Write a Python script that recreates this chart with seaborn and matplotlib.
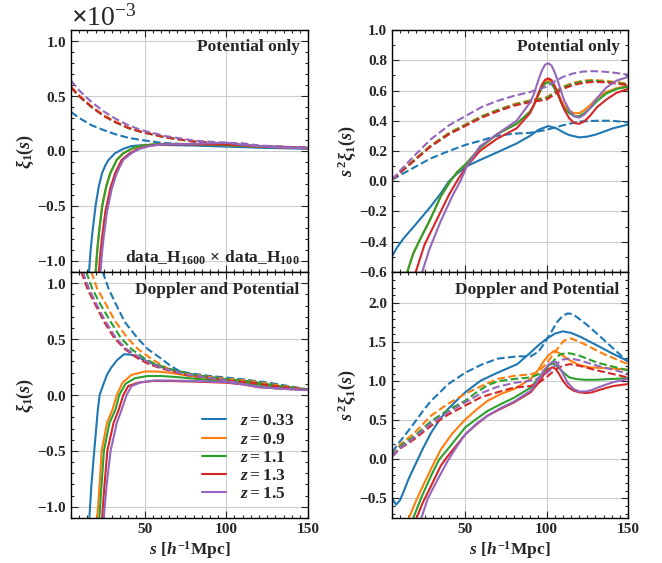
import matplotlib
matplotlib.use("Agg")
import matplotlib.pyplot as plt
import seaborn as sns
import pandas as pd
from matplotlib.lines import Line2D
from matplotlib.ticker import MultipleLocator, ScalarFormatter

# redshift bins
Z = ["0.33", "0.9", "1.1", "1.3", "1.5"]

# ---- xi_1(s), potential only (units of 1e-3) ----
pot_xi_solid = {
    "0.33": ([15.6, 16, 17, 18, 20, 22, 24, 26, 28, 32, 37, 42, 50, 60, 80, 100, 120, 150],
             [-1.25, -1.1, -0.9, -0.75, -0.5, -0.32, -0.2, -0.13, -0.08, -0.02, 0.02, 0.045, 0.055, 0.055, 0.05, 0.04, 0.03, 0.02]),
    "0.9": ([19.6, 20, 21, 22, 24, 26.5, 29, 33, 37, 42, 47, 55, 70, 90, 110, 130, 150],
            [-1.25, -1.1, -0.9, -0.75, -0.5, -0.32, -0.2, -0.08, -0.02, 0.02, 0.045, 0.06, 0.065, 0.06, 0.045, 0.035, 0.025]),
    "1.1": ([19.7, 20.1, 21.1, 22.1, 24.1, 26.6, 29.1, 33, 37, 42, 47, 55, 70, 90, 110, 130, 150],
            [-1.25, -1.1, -0.9, -0.75, -0.5, -0.32, -0.2, -0.08, -0.02, 0.02, 0.045, 0.06, 0.065, 0.06, 0.045, 0.035, 0.025]),
    "1.3": ([21.6, 22, 23, 24, 26, 29, 32, 36, 41, 46, 52, 60, 80, 100, 110, 130, 150],
            [-1.25, -1.1, -0.92, -0.78, -0.55, -0.34, -0.2, -0.08, -0.02, 0.02, 0.045, 0.06, 0.06, 0.06, 0.05, 0.035, 0.025]),
    "1.5": ([22.6, 23, 24, 25, 27, 30, 33, 37, 42, 47, 53, 60, 80, 100, 110, 130, 150],
            [-1.25, -1.1, -0.92, -0.78, -0.55, -0.34, -0.2, -0.08, -0.02, 0.02, 0.045, 0.06, 0.065, 0.075, 0.055, 0.035, 0.025]),
}
pot_xi_dashed = {
    "0.33": ([5, 10, 17.6, 25, 32, 40, 48, 60, 80, 100, 120, 150],
             [0.355, 0.3, 0.234, 0.19, 0.153, 0.12, 0.1, 0.075, 0.055, 0.045, 0.035, 0.025]),
    "0.9": ([5, 10, 17.6, 25, 32, 40, 48, 63, 81, 100, 120, 150],
            [0.585, 0.505, 0.405, 0.325, 0.268, 0.213, 0.176, 0.125, 0.086, 0.066, 0.046, 0.03]),
    "1.1": ([5, 10, 17.6, 25, 32, 40, 48, 63, 81, 100, 120, 150],
            [0.575, 0.495, 0.398, 0.318, 0.262, 0.208, 0.172, 0.122, 0.083, 0.064, 0.045, 0.03]),
    "1.3": ([5, 10, 17.6, 25, 32, 40, 48, 63, 81, 100, 120, 150],
            [0.58, 0.5, 0.4, 0.32, 0.264, 0.21, 0.174, 0.123, 0.084, 0.065, 0.045, 0.03]),
    "1.5": ([5, 10, 17.6, 25, 32, 40, 48, 63, 81, 100, 110, 120, 150],
            [0.64, 0.55, 0.444, 0.36, 0.295, 0.235, 0.19, 0.135, 0.093, 0.075, 0.07, 0.05, 0.03]),
}

# ---- xi_1(s), Doppler and potential (units of 1e-3) ----
dop_xi_solid = {
    "0.33": ([15.8, 16.2, 17.5, 19.2, 21.4, 22.5, 25.4, 27, 29.4, 33, 37.5, 42, 47, 55, 65, 80, 100, 115, 130, 150],
             [-1.25, -1.1, -0.8, -0.5, -0.13, 0.0, 0.12, 0.18, 0.24, 0.31, 0.365, 0.36, 0.33, 0.28, 0.23, 0.18, 0.14, 0.12, 0.08, 0.045]),
    "0.9": ([20.5, 21, 22.5, 23.7, 27, 30.4, 33, 36.5, 42, 50, 57, 65, 80, 100, 115, 130, 150],
            [-1.25, -1.1, -0.8, -0.5, -0.25, -0.13, 0.0, 0.11, 0.18, 0.21, 0.21, 0.2, 0.165, 0.13, 0.11, 0.08, 0.045]),
    "1.1": ([21.8, 22.3, 23.7, 25.1, 28.5, 32.2, 34.5, 38.3, 44, 52, 60, 70, 85, 100, 115, 130, 150],
            [-1.25, -1.1, -0.8, -0.5, -0.25, -0.13, 0.0, 0.1, 0.15, 0.17, 0.17, 0.16, 0.14, 0.12, 0.1, 0.075, 0.045]),
    "1.3": ([23.5, 24, 25.5, 27.2, 31, 34.2, 37, 40, 46, 54.6, 65, 80, 100, 110, 120, 135, 150],
            [-1.25, -1.1, -0.8, -0.5, -0.25, -0.13, 0.0, 0.08, 0.11, 0.125, 0.125, 0.12, 0.11, 0.095, 0.07, 0.055, 0.045]),
    "1.5": ([24.5, 25, 26.8, 29.2, 33, 36, 39, 42, 48, 56, 65, 80, 100, 110, 120, 135, 150],
            [-1.25, -1.1, -0.8, -0.5, -0.25, -0.13, 0.0, 0.08, 0.115, 0.13, 0.13, 0.125, 0.115, 0.095, 0.07, 0.055, 0.045]),
}
dop_xi_dashed = {
    "0.33": ([23, 24.4, 28, 32.5, 38, 45.6, 52, 59.7, 66, 71.8, 80, 90, 100, 110, 126, 140, 150],
             [1.2, 1.1, 0.95, 0.81, 0.65, 0.51, 0.41, 0.33, 0.26, 0.21, 0.19, 0.17, 0.156, 0.14, 0.11, 0.075, 0.05]),
    "0.9": ([16.5, 17.4, 21, 26.4, 32, 39.5, 46, 53.6, 60, 67.6, 80, 100, 115, 130, 150],
            [1.2, 1.1, 0.95, 0.81, 0.66, 0.51, 0.41, 0.33, 0.27, 0.21, 0.18, 0.145, 0.125, 0.09, 0.05]),
    "1.1": ([13.5, 14.3, 18, 23, 29, 35.5, 42, 49.6, 56, 63.7, 80, 100, 115, 130, 150],
            [1.2, 1.1, 0.95, 0.81, 0.66, 0.51, 0.41, 0.33, 0.28, 0.24, 0.18, 0.14, 0.12, 0.085, 0.05]),
    "1.3": ([10.5, 11.3, 15, 19.8, 25, 31.4, 38, 45.6, 52, 59.7, 75, 100, 115, 130, 150],
            [1.2, 1.1, 0.95, 0.81, 0.66, 0.51, 0.41, 0.33, 0.28, 0.24, 0.18, 0.13, 0.11, 0.08, 0.045]),
    "1.5": ([11.5, 12.3, 16, 20.6, 26, 32.4, 39, 47.6, 54, 61, 75, 100, 110, 120, 135, 150],
            [1.2, 1.1, 0.95, 0.81, 0.66, 0.51, 0.41, 0.33, 0.28, 0.24, 0.185, 0.13, 0.1, 0.075, 0.055, 0.045]),
}

# ---- s^2 xi_1(s), potential only ----
pot_s2_solid = {
    "0.33": ([5.1, 8, 12, 18.4, 28.6, 35, 40, 45, 51, 59, 69.4, 81.6, 89.8, 95, 101, 106, 110, 114, 120, 125, 130.6, 140.8, 150],
             [-0.495, -0.44, -0.38, -0.3, -0.17, -0.08, 0.0, 0.05, 0.1, 0.14, 0.19, 0.25, 0.3, 0.34, 0.365, 0.35, 0.325, 0.305, 0.29, 0.295, 0.31, 0.35, 0.375]),
    "0.9": ([13.8, 18, 22, 28.6, 35, 40.8, 45, 51, 59, 69.4, 81.6, 89.8, 92, 95, 97, 99, 101, 103, 105, 107, 109, 111, 114, 117, 120, 123, 126.5, 131, 136.7, 143, 150],
            [-0.62, -0.48, -0.39, -0.25, -0.1, 0.0, 0.06, 0.12, 0.22, 0.31, 0.38, 0.46, 0.5, 0.58, 0.63, 0.66, 0.67, 0.66, 0.625, 0.585, 0.535, 0.495, 0.465, 0.45, 0.45, 0.47, 0.5, 0.55, 0.59, 0.615, 0.63]),
    "1.1": ([13.8, 18, 22, 28.6, 35, 40.8, 45, 51, 59, 69.4, 81.6, 89.8, 92, 95, 97, 99, 101, 103, 105, 107, 109, 111, 114, 117, 120, 123, 126.5, 131, 136.7, 143, 150],
            [-0.62, -0.48, -0.39, -0.25, -0.1, 0.0, 0.06, 0.12, 0.22, 0.31, 0.38, 0.46, 0.5, 0.57, 0.615, 0.645, 0.655, 0.645, 0.61, 0.57, 0.52, 0.48, 0.45, 0.43, 0.43, 0.45, 0.48, 0.53, 0.58, 0.61, 0.625]),
    "1.3": ([19, 25, 32.7, 40, 46, 51, 59, 69.4, 81.6, 89.8, 92, 95, 97, 99, 101, 103, 105, 107, 109, 111, 114, 117, 120, 123, 126.5, 131, 136.7, 143, 150],
            [-0.62, -0.42, -0.25, -0.09, 0.02, 0.1, 0.2, 0.28, 0.35, 0.45, 0.5, 0.58, 0.635, 0.67, 0.68, 0.67, 0.63, 0.58, 0.52, 0.47, 0.415, 0.385, 0.38, 0.395, 0.43, 0.49, 0.54, 0.585, 0.61]),
    "1.5": ([23, 28, 34.7, 42, 47, 51, 59, 69.4, 81.6, 89.8, 92, 95, 97, 99, 101, 103, 105, 107, 109, 111, 114, 117, 120, 123, 126.5, 131, 136.7, 143, 150],
            [-0.62, -0.45, -0.27, -0.1, 0.0, 0.1, 0.23, 0.31, 0.4, 0.52, 0.57, 0.67, 0.73, 0.77, 0.78, 0.765, 0.72, 0.66, 0.59, 0.53, 0.47, 0.43, 0.42, 0.44, 0.48, 0.55, 0.62, 0.665, 0.69]),
}
pot_s2_dashed = {
    "0.33": ([5, 10, 18.4, 28.6, 40, 50, 60, 69.4, 80, 89.8, 100, 110, 120, 130.6, 140, 150],
             [0.01, 0.04, 0.09, 0.15, 0.2, 0.24, 0.27, 0.3, 0.315, 0.32, 0.34, 0.37, 0.395, 0.4, 0.4, 0.39]),
    "0.9": ([5, 10, 18.4, 28.6, 40, 50, 60, 69.4, 80, 89.8, 100, 105, 110, 116, 122.4, 128, 134.7, 142, 150],
            [0.01, 0.06, 0.14, 0.235, 0.32, 0.375, 0.43, 0.47, 0.51, 0.535, 0.555, 0.59, 0.625, 0.65, 0.665, 0.67, 0.665, 0.657, 0.645]),
    "1.1": ([5, 10, 18.4, 28.6, 40, 50, 60, 69.4, 80, 89.8, 100, 105, 110, 116, 122.4, 128, 134.7, 142, 150],
            [0.01, 0.058, 0.137, 0.232, 0.316, 0.372, 0.427, 0.467, 0.505, 0.53, 0.55, 0.585, 0.62, 0.645, 0.66, 0.665, 0.66, 0.652, 0.64]),
    "1.3": ([5, 10, 18.4, 28.6, 40, 50, 60, 69.4, 80, 89.8, 100, 105, 110, 116, 122.4, 128, 134.7, 142, 150],
            [0.01, 0.055, 0.133, 0.228, 0.31, 0.365, 0.42, 0.46, 0.5, 0.522, 0.54, 0.575, 0.61, 0.635, 0.65, 0.657, 0.655, 0.647, 0.635]),
    "1.5": ([5, 10, 18.4, 28.6, 40, 50, 60, 69.4, 80, 89.8, 100, 105, 110, 116, 122.4, 128, 134.7, 142, 150],
            [0.01, 0.07, 0.165, 0.275, 0.37, 0.43, 0.49, 0.53, 0.565, 0.59, 0.625, 0.66, 0.69, 0.712, 0.725, 0.728, 0.725, 0.717, 0.705]),
}

# ---- s^2 xi_1(s), Doppler and potential ----
dop_s2_solid = {
    "0.33": ([5.5, 7.5, 10, 12.6, 15, 18.8, 24, 29, 34, 39.2, 45, 50, 59.6, 69.8, 82, 90.2, 96, 100.4, 105, 110, 115, 120.8, 131, 141, 150],
             [-0.51, -0.58, -0.52, -0.39, -0.26, -0.09, 0.14, 0.34, 0.5, 0.64, 0.76, 0.86, 1.01, 1.11, 1.22, 1.37, 1.48, 1.55, 1.61, 1.64, 1.62, 1.57, 1.46, 1.35, 1.26]),
    "0.9": ([14.8, 20, 24.9, 30, 35.1, 42, 50, 57, 63.7, 72, 80, 90.2, 95, 98, 101, 104.5, 107, 110.6, 115, 120, 126, 135, 150],
            [-0.78, -0.52, -0.3, -0.08, 0.13, 0.33, 0.51, 0.64, 0.75, 0.84, 0.9, 1.03, 1.15, 1.25, 1.33, 1.39, 1.37, 1.32, 1.26, 1.21, 1.18, 1.17, 1.15]),
    "1.1": ([17.5, 23, 29, 34, 39.2, 45, 50, 57, 63.7, 72, 80, 90.2, 95, 98.4, 101, 103.5, 105.5, 108, 111, 114, 118, 123, 130, 140, 150],
            [-0.78, -0.49, -0.21, 0.0, 0.13, 0.28, 0.41, 0.52, 0.62, 0.71, 0.79, 0.92, 1.04, 1.13, 1.2, 1.23, 1.21, 1.16, 1.1, 1.05, 1.03, 1.02, 1.02, 1.03, 1.04]),
    "1.3": ([19.5, 24, 29, 35, 39.2, 45, 50, 57, 63.7, 72, 80, 90.2, 95, 98.4, 101, 103.5, 105.5, 107.5, 110, 113, 116.7, 120, 124, 128, 134, 141, 150],
            [-0.78, -0.55, -0.34, -0.08, 0.04, 0.19, 0.32, 0.45, 0.56, 0.65, 0.73, 0.86, 0.98, 1.09, 1.15, 1.18, 1.16, 1.1, 1.01, 0.93, 0.88, 0.86, 0.85, 0.86, 0.9, 0.94, 0.965]),
    "1.5": ([22.6, 27, 33, 39.2, 45, 50, 57, 63.7, 72, 80, 90.2, 95, 98.4, 101, 103.5, 105.7, 107.5, 110, 113, 116.7, 120, 124, 128, 134, 141, 150],
            [-0.78, -0.5, -0.26, -0.02, 0.17, 0.32, 0.46, 0.56, 0.66, 0.74, 0.88, 1.02, 1.14, 1.21, 1.245, 1.25, 1.2, 1.1, 0.98, 0.9, 0.87, 0.87, 0.89, 0.94, 0.99, 1.03]),
}
dop_s2_dashed = {
    "0.33": ([5.3, 8, 12.6, 18.8, 24, 29, 35, 39.2, 45, 50, 59.6, 69.8, 82, 90.2, 95, 98.4, 102, 106.5, 110, 113, 116, 118.8, 125, 131, 141, 150],
             [0.09, 0.18, 0.3, 0.47, 0.62, 0.75, 0.87, 0.96, 1.04, 1.11, 1.21, 1.29, 1.32, 1.32, 1.38, 1.48, 1.6, 1.76, 1.84, 1.87, 1.86, 1.82, 1.72, 1.61, 1.42, 1.25]),
    "0.9": ([5.3, 10, 18.8, 29, 39.2, 50, 60, 69.8, 80, 90.2, 95, 100.4, 106, 110.6, 115, 122.8, 135, 150],
            [0.04, 0.19, 0.34, 0.56, 0.71, 0.84, 0.94, 1.03, 1.07, 1.09, 1.12, 1.24, 1.4, 1.52, 1.55, 1.48, 1.35, 1.22]),
    "1.1": ([5.3, 10, 18.8, 29, 39.2, 50, 57, 63.7, 70, 80, 90.2, 95, 100.4, 105, 108.5, 114, 120, 131, 150],
            [0.04, 0.17, 0.3, 0.49, 0.63, 0.75, 0.86, 0.95, 1.0, 1.03, 1.05, 1.09, 1.16, 1.28, 1.35, 1.36, 1.33, 1.24, 1.14]),
    "1.3": ([5.3, 10, 18.8, 29, 39.2, 50, 60, 69.8, 80, 90.2, 95, 100.4, 106, 110, 114, 120, 131, 150],
            [0.04, 0.14, 0.26, 0.43, 0.57, 0.69, 0.8, 0.86, 0.92, 0.94, 0.98, 1.06, 1.16, 1.2, 1.22, 1.2, 1.14, 1.05]),
    "1.5": ([5.3, 10, 18.8, 29, 39.2, 50, 60, 69.8, 80, 90.2, 95, 100.4, 106, 110, 115, 120, 131, 150],
            [0.04, 0.15, 0.28, 0.46, 0.6, 0.73, 0.85, 0.93, 0.98, 1.01, 1.04, 1.11, 1.22, 1.28, 1.29, 1.27, 1.2, 1.1]),
}


def to_frame(solid, dashed, scale=1.0):
    rows = []
    for kind, curves in (("solid", solid), ("dashed", dashed)):
        for z, (s, y) in curves.items():
            for a, b in zip(s, y):
                rows.append((z, kind, a, b * scale))
    return pd.DataFrame(rows, columns=["z", "kind", "s", "val"])


sns.set_style("ticks")
plt.rcParams["font.family"] = ["Liberation Serif", "DejaVu Serif"]
plt.rcParams["font.weight"] = "bold"
plt.rcParams["mathtext.fontset"] = "custom"
plt.rcParams["mathtext.rm"] = "Liberation Serif:bold"
plt.rcParams["mathtext.it"] = "Liberation Serif:italic:bold"
plt.rcParams["mathtext.bf"] = "Liberation Serif:bold"

colors = sns.color_palette("tab10", 5)

fig = plt.figure(figsize=(6.62, 5.63), dpi=100)
ax_tl = fig.add_axes([0.1073, 0.5169, 0.358, 0.4298])
ax_bl = fig.add_axes([0.1073, 0.0799, 0.358, 0.4370])
ax_tr = fig.add_axes([0.5921, 0.5169, 0.3565, 0.4298])
ax_br = fig.add_axes([0.5921, 0.0799, 0.3565, 0.4370])

panels = [
    (ax_tl, to_frame(pot_xi_solid, pot_xi_dashed, 1e-3)),
    (ax_bl, to_frame(dop_xi_solid, dop_xi_dashed, 1e-3)),
    (ax_tr, to_frame(pot_s2_solid, pot_s2_dashed)),
    (ax_br, to_frame(dop_s2_solid, dop_s2_dashed)),
]

for ax, df in panels:
    sns.lineplot(data=df, x="s", y="val", hue="z", hue_order=Z, palette=colors,
                 style="kind", style_order=["dashed", "solid"],
                 dashes={"solid": "", "dashed": (3.7, 1.6)},
                 estimator=None, sort=False, lw=1.5, legend=False, ax=ax)
    ax.set_xlim(5, 150)
    ax.xaxis.set_major_locator(MultipleLocator(50))
    ax.xaxis.set_minor_locator(MultipleLocator(5))
    ax.grid(True, which="major", color="#cccccc", lw=0.8)
    ax.set_axisbelow(True)
    ax.tick_params(which="both", direction="in", top=True, right=True, labelsize=11, width=0.8)
    ax.tick_params(which="major", length=5)
    ax.tick_params(which="minor", length=2.5)
    for sp in ax.spines.values():
        sp.set_linewidth(1.0)
        sp.set_color("black")
    ax.set_xlabel("")
    ax.set_ylabel("")

# left column: xi_1 in units of 1e-3
for ax in (ax_tl, ax_bl):
    ax.set_ylim(-1.1e-3, 1.1e-3)
    ax.yaxis.set_major_locator(MultipleLocator(0.5e-3))
    ax.yaxis.set_minor_locator(MultipleLocator(0.1e-3))
    fmt = ScalarFormatter(useMathText=True)
    fmt.set_powerlimits((0, 0))
    ax.yaxis.set_major_formatter(fmt)
    ax.set_ylabel(r"$\xi_1(s)$", fontsize=13, labelpad=1)
ax_tl.yaxis.get_offset_text().set_fontsize(20)
ax_tl.yaxis.get_offset_text().set_fontweight("normal")
ax_bl.yaxis.get_offset_text().set_visible(False)

ax_tr.set_ylim(-0.6, 1.0)
ax_tr.yaxis.set_major_locator(MultipleLocator(0.2))
ax_tr.yaxis.set_minor_locator(MultipleLocator(0.1))
ax_br.set_ylim(-0.75, 2.4)
ax_br.yaxis.set_major_locator(MultipleLocator(0.5))
ax_br.yaxis.set_minor_locator(MultipleLocator(0.1))
for ax in (ax_tr, ax_br):
    ax.set_ylabel(r"$s^{\,2}\xi_1(s)$", fontsize=13, labelpad=1)

for ax in (ax_tl, ax_tr):
    ax.tick_params(labelbottom=False)
for ax in (ax_bl, ax_br):
    ax.set_xlabel(r"$s\ [h^{-1}\mathrm{Mpc}]$", fontsize=12.5, labelpad=2)

for ax in (ax_tl, ax_tr):
    ax.text(0.965, 0.93, "Potential only", transform=ax.transAxes,
            ha="right", va="center", fontsize=12.5)
for ax in (ax_bl, ax_br):
    ax.text(0.965, 0.925, "Doppler and Potential", transform=ax.transAxes,
            ha="right", va="center", fontsize=12.5)
ax_tl.text(0.965, 0.06, r"data_H$_{1600}\,\times\,$data_H$_{100}$",
           transform=ax_tl.transAxes, ha="right", va="center", fontsize=12.5)

handles = [Line2D([], [], color=c, lw=1.5) for c in colors]
labels = [rf"$z = {z}$" for z in Z]
ax_bl.legend(handles, labels, loc="lower right", bbox_to_anchor=(1.01, 0.0),
             frameon=False, fontsize=12.5, handlelength=1.4, handletextpad=0.8,
             labelspacing=0.12)

fig.savefig("out.png", dpi=100)
